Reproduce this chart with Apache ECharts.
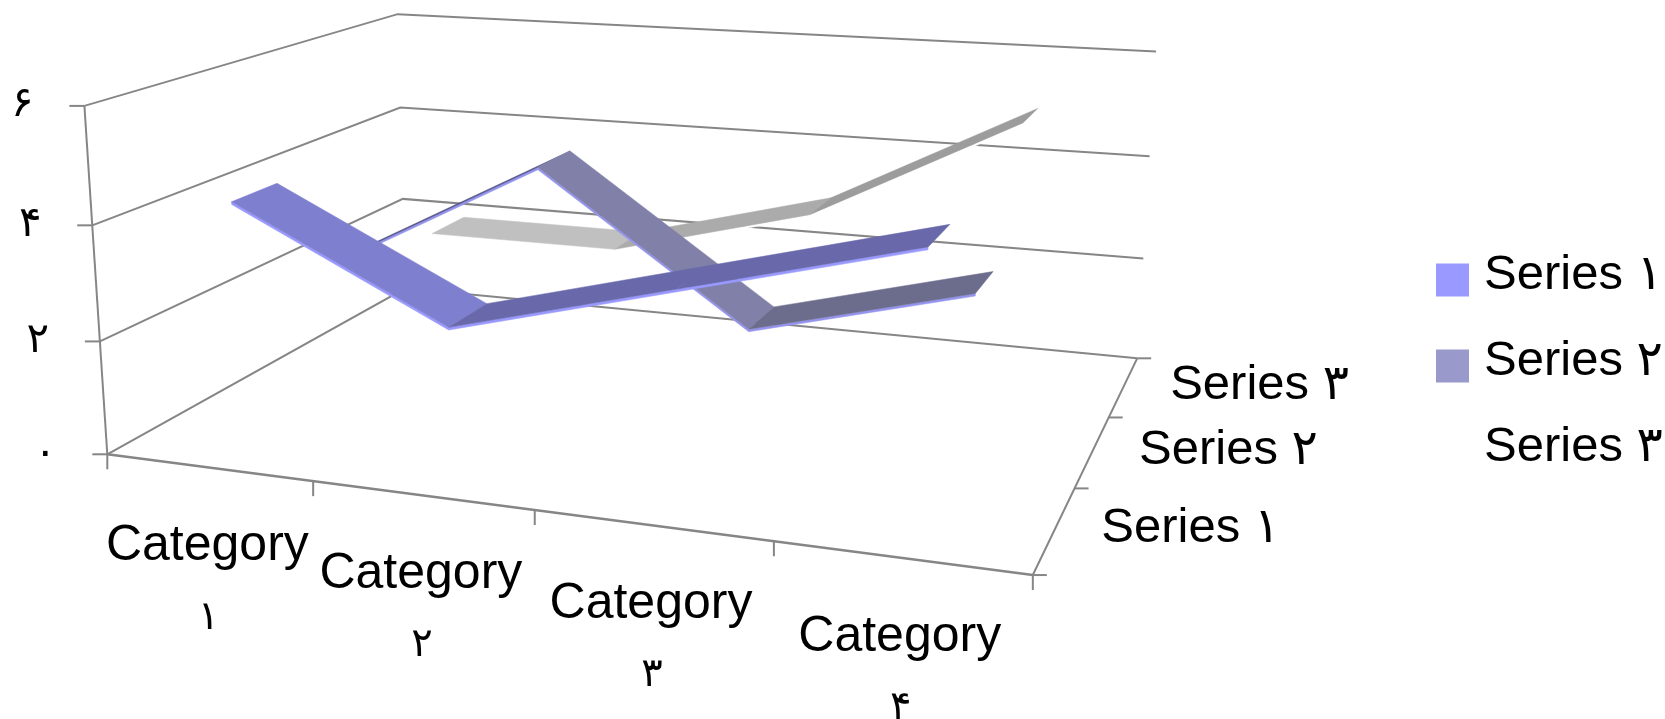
<!DOCTYPE html>
<html>
<head>
<meta charset="utf-8">
<style>
  html, body { margin: 0; background: #fff; }
  #chart { width: 1665px; height: 719px; }
</style>
<script src="https://cdn.jsdelivr.net/npm/echarts@6/dist/echarts.min.js"></script>
</head>
<body>
<div id="chart"></div>
<script>
const categories = ['Category', 'Category', 'Category', 'Category'];
const categoryDigits = ['۱', '۲', '۳', '۴'];
const seriesNames = ['Series ۱', 'Series ۲', 'Series ۳'];
const series1 = [4.3, 2.5, 3.5, 4.5];
const series2 = [2.4, 4.4, 1.8, 2.8];
const series3 = [2, 2, 3, 5];
const valueTicks = [0, 2, 4, 6];
const valueLabels = ['۰', '۲', '۴', '۶'];

const FONT = '"Liberation Sans", "DejaVu Sans", sans-serif';
const AXIS_COLOR = '#868686';
const RIBBON = 0.4; // share of the depth slot, gap depth 150%
const THICK = 0.045; // ribbon edge height in value units

// camera fitted to the box corners: [u, v, w] -> [px, py]
const cameraPoints = [
  [0, 0, 0, 107, 454], [1, 0, 0, 1032, 575], [1, 1, 0, 1136, 358], [0, 1, 0, 406, 288],
  [0, 0, 1 / 3, 100, 341], [0, 0, 2 / 3, 92, 225], [0, 0, 1, 85, 106],
  [0, 1, 1 / 3, 403, 199], [0, 1, 2 / 3, 399, 108], [0, 1, 1, 398, 14],
  [1, 1, 1 / 3, 1144, 259], [1, 1, 2 / 3, 1151, 157], [1, 1, 1, 1155, 51],
  [0.25, 0, 0, 313, 482], [0.5, 0, 0, 535, 510], [0.75, 0, 0, 774, 542],
  [1, 1 / 3, 0, 1075, 488], [1, 2 / 3, 0, 1109, 417]
];

function fitCamera(points) {
  const n = 11;
  const ata = [];
  for (let i = 0; i < n; i++) ata.push(new Array(n + 1).fill(0));
  points.forEach(function (p) {
    const x = p[3] / 1000, y = p[4] / 1000;
    const rows = [
      [p[0], p[1], p[2], 1, 0, 0, 0, 0, -x * p[0], -x * p[1], -x * p[2], x],
      [0, 0, 0, 0, p[0], p[1], p[2], 1, -y * p[0], -y * p[1], -y * p[2], y]
    ];
    rows.forEach(function (r) {
      for (let a = 0; a < n; a++) {
        for (let b = 0; b <= n; b++) ata[a][b] += r[a] * r[b];
      }
    });
  });
  for (let c = 0; c < n; c++) {
    let best = c;
    for (let r = c + 1; r < n; r++) {
      if (Math.abs(ata[r][c]) > Math.abs(ata[best][c])) best = r;
    }
    const tmp = ata[c]; ata[c] = ata[best]; ata[best] = tmp;
    for (let r = 0; r < n; r++) {
      if (r === c) continue;
      const f = ata[r][c] / ata[c][c];
      for (let k = c; k <= n; k++) ata[r][k] -= f * ata[c][k];
    }
  }
  return ata.map(function (row, i) { return row[n] / row[i]; });
}

const cam = fitCamera(cameraPoints);

function project(u, v, w) {
  const d = cam[8] * u + cam[9] * v + cam[10] * w + 1;
  return [
    1000 * (cam[0] * u + cam[1] * v + cam[2] * w + cam[3]) / d,
    1000 * (cam[4] * u + cam[5] * v + cam[6] * w + cam[7]) / d
  ];
}

// grid scales give u and w, the projection does the rest
function unit(api, cs, cat, value) {
  const p = api.coord([cat, value]);
  return [(p[0] - cs.x) / cs.width, 1 - (p[1] - cs.y) / cs.height];
}

function line(points, width) {
  return {
    type: 'polyline',
    shape: { points: points },
    style: { stroke: AXIS_COLOR, lineWidth: width || 2, fill: null }
  };
}

function label(text, x, y, size) {
  return {
    type: 'text',
    style: {
      text: text, x: x, y: y, fill: '#000',
      font: (size || 49) + 'px ' + FONT,
      align: 'center', verticalAlign: 'middle'
    }
  };
}

function renderFrame(params, api) {
  const cs = params.coordSys;
  const kids = [];
  const wOf = function (value) { return unit(api, cs, 0, value)[1]; };

  // walls and floor
  valueTicks.forEach(function (t) {
    const w = wOf(t);
    kids.push(line([project(0, 0, w), project(0, 1, w), project(1, 1, w)]));
    const f = project(0, 0, w);
    kids.push(line([[f[0] - 15, f[1]], f]));
  });
  kids.push(line([project(0, 0, wOf(0)), project(0, 0, wOf(6))]));
  kids.push(line([project(0, 0, 0), project(1, 0, 0)], 2.6));
  kids.push(line([project(1, 0, 0), project(1, 1, 0)]));

  // category ticks
  for (let i = 0; i <= categories.length; i++) {
    const p = project(i / categories.length, 0, 0);
    kids.push(line([p, [p[0], p[1] + 15]]));
  }
  // depth ticks
  for (let i = 0; i <= seriesNames.length; i++) {
    const p = project(1, i / seriesNames.length, 0);
    kids.push(line([p, [p[0] + 14, p[1]]]));
  }
  return { type: 'group', children: kids };
}

function renderLabels(params, api) {
  const cs = params.coordSys;
  const kids = [];
  categories.forEach(function (c, i) {
    const u = unit(api, cs, i, 0)[0];
    const p = project(u, 0, 0);
    kids.push(label(c, p[0] - 1, p[1] + 79, 50));
    kids.push(label(categoryDigits[i], p[0], p[1] + 150, 40));
  });
  seriesNames.forEach(function (s, i) {
    const p = project(1, (i + 0.5) / seriesNames.length, 0);
    kids.push(label(s, p[0] + 136, p[1] - 1));
  });
  valueTicks.forEach(function (t, i) {
    const p = project(0, 0, unit(api, cs, 0, t)[1]);
    kids.push(label(valueLabels[i], p[0] - 62, p[1] - 1, 42));
  });
  return { type: 'group', children: kids };
}

function quad(points, fill) {
  return {
    type: 'polygon',
    shape: { points: points },
    style: { fill: fill, stroke: fill, lineWidth: 0.5 }
  };
}

// one ribbon segment per data item, from this category to the next
function ribbon(values, slot, tops, edge) {
  const v0 = (slot + 0.5 - RIBBON / 2) / seriesNames.length;
  const v1 = (slot + 0.5 + RIBBON / 2) / seriesNames.length;
  return function (params, api) {
    const i = params.dataIndex;
    if (i >= values.length - 1) return null;
    const cs = params.coordSys;
    const a = unit(api, cs, i, values[i]);
    const b = unit(api, cs, i + 1, values[i + 1]);
    const a2 = unit(api, cs, i, values[i] - THICK);
    const b2 = unit(api, cs, i + 1, values[i + 1] - THICK);
    return {
      type: 'group',
      children: [
        quad([project(a[0], v0, a2[1]), project(b[0], v0, b2[1]), project(b[0], v0, b[1]), project(a[0], v0, a[1])], edge),
        quad([project(a[0], v0, a[1]), project(b[0], v0, b[1]), project(b[0], v1, b[1]), project(a[0], v1, a[1])], tops[i])
      ]
    };
  };
}

function ribbonSeries(name, values, slot, color, tops, edge, z) {
  return {
    name: name,
    type: 'custom',
    z: z,
    silent: true,
    itemStyle: { color: color },
    renderItem: ribbon(values, slot, tops, edge),
    encode: { x: 0, y: 1 },
    data: values.map(function (v, i) { return [i, v]; })
  };
}

const chart = echarts.init(document.getElementById('chart'));
chart.setOption({
  animation: false,
  backgroundColor: '#fff',
  grid: { left: 0, right: 0, top: 0, bottom: 0 },
  xAxis: { type: 'category', data: categories, show: false },
  yAxis: { type: 'value', min: 0, max: 6, show: false },
  legend: {
    left: 1436,
    top: 251,
    padding: 0,
    orient: 'vertical',
    data: seriesNames,
    icon: 'rect',
    itemWidth: 33,
    itemHeight: 33,
    itemGap: 37,
    selectedMode: false,
    formatter: function (name) { return '{t|' + name + '}'; },
    textStyle: {
      rich: {
        t: { fontSize: 49, fontFamily: FONT, color: '#000', padding: [0, 0, 9, 10] }
      }
    }
  },
  series: [
    { name: 'frame', type: 'custom', z: 1, silent: true, renderItem: renderFrame, data: [[0, 0]], encode: { x: 0, y: 1 } },
    ribbonSeries(seriesNames[2], series3, 2, '#FFFFFF', ['#C0C0C0', '#ABABAB', '#9C9C9C'], '#FFFFFF', 2),
    ribbonSeries(seriesNames[1], series2, 1, '#9999CC', ['#55558A', '#8080A8', '#6C6C8C'], '#9494EE', 3),
    ribbonSeries(seriesNames[0], series1, 0, '#9999FF', ['#7F7FD0', '#6868AA', '#6868AA'], '#9999FF', 4),
    { name: 'labels', type: 'custom', z: 5, silent: true, renderItem: renderLabels, data: [[0, 0]], encode: { x: 0, y: 1 } }
  ]
});
</script>
</body>
</html>
